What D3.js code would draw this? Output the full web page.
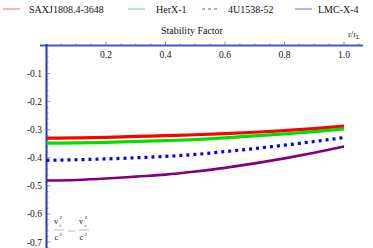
<!DOCTYPE html>
<html lang="en">
<head>
<meta charset="UTF-8">
<title>Stability Factor</title>
<script src="https://d3js.org/d3.v7.min.js"></script>
<style>
  body { margin: 0; background: #fff; }
  text { font-family: "Liberation Serif", "DejaVu Serif", serif; fill: #111; }
</style>
</head>
<body>
<div id="chart"></div>
<script>
// data
const rValues = [0, 0.1, 0.2, 0.3, 0.4, 0.5, 0.6, 0.7, 0.8, 0.9, 1.0];
const saxValues = [-0.330, -0.329, -0.327, -0.324, -0.321, -0.318, -0.314, -0.309, -0.303, -0.296, -0.287];
const herValues = [-0.348, -0.347, -0.345, -0.342, -0.339, -0.335, -0.329, -0.322, -0.315, -0.307, -0.297];
const u4Values = [-0.409, -0.407, -0.404, -0.400, -0.395, -0.388, -0.378, -0.367, -0.355, -0.342, -0.328];
const lmcValues = [-0.481, -0.479, -0.474, -0.467, -0.460, -0.449, -0.436, -0.420, -0.402, -0.382, -0.360];
const seriesNames = ["SAXJ1808.4-3648", "HerX-1", "4U1538-52", "LMC-X-4"];
const xTickValues = [0.2, 0.4, 0.6, 0.8, 1.0];
const yTickValues = [-0.1, -0.2, -0.3, -0.4, -0.5, -0.6, -0.7];

const width = 373, height = 248;
const svg = d3.select("#chart").append("svg")
    .attr("width", width).attr("height", height);

const x = d3.scaleLinear().domain([0, 1]).range([46.5, 344]);
const y = d3.scaleLinear().domain([0, -0.7]).range([45.5, 242]);

const series = [
    { name: seriesNames[0], values: saxValues, color: "#ff0000", legend: "#f28a8a", width: 3.2, dash: null },
    { name: seriesNames[1], values: herValues, color: "#00e000", legend: "#8ae88a", width: 3.2, dash: null },
    { name: seriesNames[2], values: u4Values, color: "#0000ff", legend: "#8a8af5", width: 3.2, dash: "3,4" },
    { name: seriesNames[3], values: lmcValues, color: "#800080", legend: "#b884b8", width: 2.6, dash: null }
];

// axes
const axisBlue = "#4455d4";
svg.append("line")
    .attr("x1", 40).attr("x2", 363)
    .attr("y1", y(0)).attr("y2", y(0))
    .attr("stroke", axisBlue).attr("stroke-width", 2);
svg.append("line")
    .attr("x1", x(0)).attr("x2", x(0))
    .attr("y1", 44).attr("y2", 248)
    .attr("stroke", "#2233cc").attr("stroke-width", 2);

// x ticks (pointing up), minor every 0.05
d3.range(0.05, 1.06, 0.05).forEach(v => {
    const major = Math.abs(v * 5 - Math.round(v * 5)) < 1e-6;
    svg.append("line")
        .attr("x1", x(v)).attr("x2", x(v))
        .attr("y1", y(0)).attr("y2", y(0) - (major ? 4 : 2))
        .attr("stroke", "#666").attr("stroke-width", 0.7);
});
svg.selectAll(".xlab").data(xTickValues).join("text")
    .attr("x", d => x(d)).attr("y", y(0) + 12)
    .attr("text-anchor", "middle").attr("font-size", 9.5)
    .text(d => d.toFixed(1));

// y ticks (pointing right), minor every 0.02
d3.range(1, 37).forEach(i => {
    const v = -i * 0.02;
    const major = i % 5 === 0;
    svg.append("line")
        .attr("x1", x(0)).attr("x2", x(0) + (major ? 4 : 2))
        .attr("y1", y(v)).attr("y2", y(v))
        .attr("stroke", "#666").attr("stroke-width", 0.7);
});
svg.selectAll(".ylab").data(yTickValues).join("text")
    .attr("x", 42).attr("y", d => y(d) + 3.5)
    .attr("text-anchor", "end").attr("font-size", 9.5)
    .text(d => d.toFixed(1));

// curves
const line = d3.line()
    .x((d, i) => x(rValues[i]))
    .y(d => y(d))
    .curve(d3.curveMonotoneX);

series.forEach(s => {
    svg.append("path")
        .datum(s.values)
        .attr("d", line)
        .attr("fill", "none")
        .attr("stroke", s.color)
        .attr("stroke-width", s.width)
        .attr("stroke-dasharray", s.dash);
});

// legend
const legendX = [3, 128, 202, 295];
const legendTextX = [29, 156, 228, 318];
series.forEach((s, i) => {
    svg.append("line")
        .attr("x1", legendX[i]).attr("x2", legendX[i] + 17)
        .attr("y1", 9).attr("y2", 9)
        .attr("stroke", s.legend).attr("stroke-width", 1.3)
        .attr("stroke-dasharray", s.dash ? "3,3" : null);
    svg.append("text")
        .attr("x", legendTextX[i]).attr("y", 12.5)
        .attr("font-size", 10)
        .text(s.name);
});

// title and axis labels
svg.append("text")
    .attr("x", 192).attr("y", 34)
    .attr("text-anchor", "middle").attr("font-size", 10)
    .text("Stability Factor");

const xl = svg.append("text").attr("x", 348).attr("y", 37).attr("font-size", 8.5);
xl.append("tspan").text("r/r");
xl.append("tspan").attr("font-size", 6).attr("dy", 2).text("Σ");

// y label: v_t^2/c^2 - v_r^2/c^2
function frac(cx, sub) {
    svg.append("text").attr("x", cx - 5).attr("y", 224)
        .attr("font-size", 8).text("v");
    svg.append("text").attr("x", cx + 0.5).attr("y", 219)
        .attr("font-size", 5).text("2");
    svg.append("text").attr("x", cx + 0.5).attr("y", 226.5)
        .attr("font-size", 5).text(sub);
    svg.append("line").attr("x1", cx - 5).attr("x2", cx + 5)
        .attr("y1", 230).attr("y2", 230)
        .attr("stroke", "#888").attr("stroke-width", 0.6);
    svg.append("text").attr("x", cx - 4.5).attr("y", 240)
        .attr("font-size", 8).text("c");
    svg.append("text").attr("x", cx + 0.5).attr("y", 235.5)
        .attr("font-size", 5).text("2");
}
frac(59, "t");
svg.append("line").attr("x1", 68).attr("x2", 75)
    .attr("y1", 231).attr("y2", 231)
    .attr("stroke", "#999").attr("stroke-width", 0.7);
frac(84, "r");
</script>
</body>
</html>
